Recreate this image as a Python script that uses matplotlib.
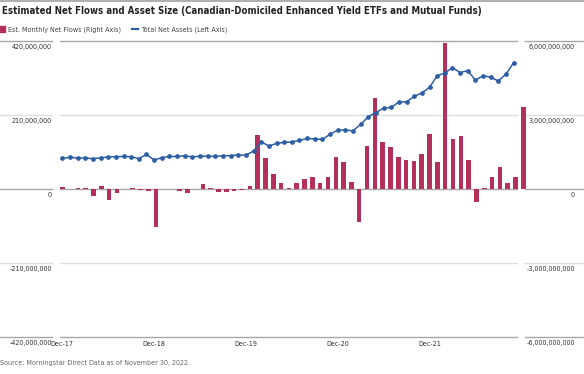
import matplotlib
matplotlib.use("Agg")
import matplotlib.pyplot as plt
import numpy as np
from matplotlib import font_manager
from matplotlib.lines import Line2D
from matplotlib.patches import Patch
from matplotlib.transforms import blended_transform_factory, offset_copy

# monthly net flows, millions (Dec-17 .. Nov-22)
flows = [5, 1, 4, 3, -19, 9, -31, -10, 1, 2,
         -4, -7, -107, 1, 1, -5, -10, -1, 15, 3,
         -8, -9, -5, -4, 8, 153, 87, 42, 18, 1.5,
         16, 27, 35, 18, 33, 90, 78, 19, -93, 123,
         257, 134, 120, 90, 82, 79, 100, 156, 77, 413,
         141, 150, 82, -38, 2, 33, 62, 18, 34, 232]
# total net assets, billions
assets = [1.245, 1.285, 1.257, 1.257, 1.23, 1.257, 1.30, 1.31, 1.32, 1.31,
          1.23, 1.405, 1.176, 1.27, 1.32, 1.32, 1.35, 1.30, 1.33, 1.33,
          1.32, 1.35, 1.35, 1.38, 1.37, 1.54, 1.92, 1.74, 1.85, 1.89,
          1.905, 1.97, 2.05, 2.03, 2.01, 2.22, 2.39, 2.39, 2.36, 2.62,
          2.93, 3.10, 3.28, 3.31, 3.53, 3.53, 3.76, 3.89, 4.12, 4.59,
          4.70, 4.92, 4.72, 4.80, 4.41, 4.59, 4.53, 4.38, 4.66, 5.12]
tick_months = [0, 12, 24, 36, 48]
tick_labels = ["Dec-17", "Dec-18", "Dec-19", "Dec-20", "Dec-21"]
left_ticks = [420e6, 210e6, 0, -210e6, -420e6]
left_labels = ["420,000,000", "210,000,000", "0", "-210,000,000", "-420,000,000"]
right_ticks = [6e9, 3e9, 0, -3e9, -6e9]
right_labels = ["6,000,000,000", "3,000,000,000", "0", "-3,000,000,000", "-6,000,000,000"]
title = "Estimated Net Flows and Asset Size (Canadian-Domiciled Enhanced Yield ETFs and Mutual Funds)"
legend_labels = ["Est. Monthly Net Flows (Right Axis)", "Total Net Assets (Left Axis)"]
source = "Source: Morningstar Direct Data as of November 30, 2022."


def pick_font(bold=False):
    # prefer a narrow face if one is installed
    for f in font_manager.fontManager.ttflist:
        fn = f.fname.lower()
        if ("narrow" in fn or "condensed" in fn) and ("bold" in fn) == bold \
                and "oblique" not in fn and "italic" not in fn:
            if "liberation" in fn or "dejavusans" in fn:
                return font_manager.FontProperties(fname=f.fname)
    return font_manager.FontProperties(family="Liberation Sans",
                                       weight="bold" if bold else "normal")


REG = pick_font(False)
BOLD = pick_font(True)

BAR = "#B3305B"
LINE = "#2E5EA4"
W, H = 584, 374
fig = plt.figure(figsize=(W / 100, H / 100), dpi=100)
renderer = fig.canvas.get_renderer()


def size_for(text, prop, target_px):
    t = fig.text(0, 0, text, fontproperties=prop, fontsize=10)
    w = t.get_window_extent(renderer).width
    t.remove()
    return 10 * target_px / w


FS = size_for("420,000,000", REG, 41)
FT = size_for(title, BOLD, 478)

L, R, T, B = 58, 527, 41, 337
rect = [L / W, 1 - B / H, (R - L) / W, (B - T) / H]
ax = fig.add_axes(rect)
ax2 = fig.add_axes(rect)
for a in (ax, ax2):
    a.set_facecolor("none")
    for s in a.spines.values():
        s.set_visible(False)
    a.tick_params(length=0)
    a.set_yticks([])

# bars
x_bar = np.arange(len(flows))
ax.bar(x_bar, np.array(flows) * 1e6, width=0.58, color=BAR, zorder=3)
ax.set_xlim(-4.3 / 7.814, -4.3 / 7.814 + (R - L) / 7.814)
ax.set_ylim(-420e6, 420e6)
ax.set_xticks([])

# line
x_line = np.arange(len(assets))
ax2.plot(x_line, np.array(assets) * 1e9, color=LINE, lw=1.1, marker="o",
         ms=2.4, zorder=4)
ax2.set_xlim(-4.3 / 7.65, -4.3 / 7.65 + (R - L) / 7.65)
ax2.set_ylim(-6e9, 6e9)
ax2.set_xticks(tick_months)
ax2.set_xticklabels(tick_labels, fontproperties=REG, fontsize=FS, color="#333333")
ax2.tick_params(axis="x", pad=3)

# gridlines and label rules
tr = blended_transform_factory(fig.transFigure, ax.transData)
for v in left_ticks:
    c = "#a8a8a8" if v in (420e6, -420e6, 0) else "#dedede"
    ax.plot([60 / W, 517 / W], [v, v], transform=tr, color=c, lw=1,
            clip_on=False, zorder=1)
    ax.plot([0, 52 / W], [v, v], transform=tr, color=c, lw=1, clip_on=False)
    ax.plot([525 / W, 1], [v, v], transform=tr, color=c, lw=1, clip_on=False)

lab_tr = offset_copy(tr, fig=fig, x=0, y=-2.2, units="points")
for v, s in zip(left_ticks, left_labels):
    ax.text(52 / W, v, s, transform=lab_tr, ha="right", va="top",
            fontproperties=REG, fontsize=FS, color="#333333")
tr2 = offset_copy(blended_transform_factory(fig.transFigure, ax2.transData),
                  fig=fig, x=0, y=-2.2, units="points")
for v, s in zip(right_ticks, right_labels):
    ax2.text(575 / W, v, s, transform=tr2, ha="right", va="top",
             fontproperties=REG, fontsize=FS, color="#333333")

# header
fig.add_artist(Line2D([0, 1], [1 - 1 / H, 1 - 1 / H], color="#a0a0a0", lw=1.2))
fig.text(2 / W, 1 - 11.5 / H, title, ha="left", va="center",
         fontproperties=BOLD, fontsize=FT, color="#222222")
handles = [Patch(color=BAR), Line2D([], [], color=LINE, lw=1.6)]
prop = REG.copy()
prop.set_size(FS)
leg = fig.legend(handles, legend_labels,
                 loc="center left", bbox_to_anchor=(-0.002, 1 - 29.5 / H), ncol=2,
                 frameon=False, handlelength=0.9, handleheight=0.9, handletextpad=0.4,
                 columnspacing=1.5, borderpad=0, borderaxespad=0, prop=prop)
for t in leg.get_texts():
    t.set_color("#444444")

fig.text(0, 1 - 362.5 / H, source, ha="left", va="center",
         fontproperties=REG, fontsize=FS, color="#666666")

fig.savefig("out.png", dpi=100)
